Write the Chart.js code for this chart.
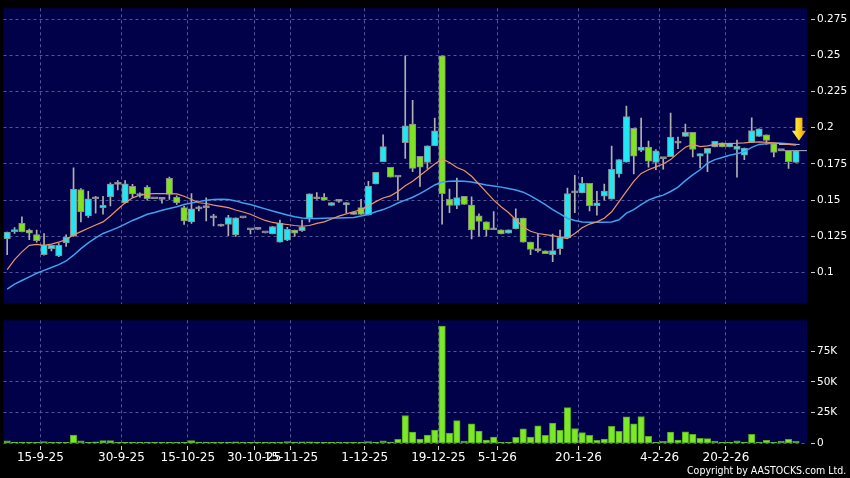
<!DOCTYPE html>
<html>
<head>
<meta charset="utf-8">
<script src="https://cdn.jsdelivr.net/npm/chart.js@4.4.1/dist/chart.umd.min.js"></script>
<style>
  html, body { margin: 0; padding: 0; background: #000; }
  #wrap { position: relative; width: 850px; height: 478px; overflow: hidden; background: #000; }
  #priceChart { position: absolute; left: 0; top: 0; }
  #volumeChart { position: absolute; left: 0; top: 312px; }
  .copyright { position: absolute; left: 687px; top: 464px; color: #fff; font: 11px "DejaVu Sans", sans-serif; white-space: nowrap; transform: scaleX(0.86); transform-origin: 0 0; }
</style>
</head>
<body>
<div id="wrap">
  <canvas id="priceChart" width="850" height="312"></canvas>
  <canvas id="volumeChart" width="850" height="166"></canvas>
  <div class="copyright">Copyright by AASTOCKS.com Ltd.</div>
</div>
<script>
// daily candles, oldest first (index 0 = first bar on the left)
const openPrices = [
  0.1233, 0.1283, 0.134, 0.1294, 0.1262, 0.1124, 0.1165, 0.1115, 0.1204, 0.1251,
  0.1573, 0.1391, 0.151, 0.1448, 0.1523, 0.1609, 0.1482, 0.1595, 0.1532, 0.159,
  0.151, 0.1505, 0.165, 0.152, 0.1448, 0.135, 0.144, 0.1448, 0.1378, 0.132,
  0.1333, 0.126, 0.1378, 0.1296, 0.1298, 0.1274, 0.1267, 0.121, 0.1224, 0.1294,
  0.129, 0.1376, 0.151, 0.152, 0.1464, 0.1492, 0.1468, 0.1418, 0.1449, 0.1398,
  0.1612, 0.1766, 0.1727, 0.1659, 0.1897, 0.2026, 0.1802, 0.1761, 0.1876, 0.2496,
  0.1505, 0.1464, 0.1527, 0.1466, 0.1391, 0.135, 0.1296, 0.1296, 0.1272, 0.1301,
  0.1376, 0.121, 0.1165, 0.115, 0.1124, 0.1165, 0.1241, 0.155, 0.155, 0.1617,
  0.1462, 0.1527, 0.1507, 0.1681, 0.1763, 0.1996, 0.1844, 0.1867, 0.1761, 0.1787,
  0.18, 0.1894, 0.194, 0.1969, 0.1804, 0.1822, 0.1867, 0.1896, 0.1867, 0.1851,
  0.181, 0.1898, 0.194, 0.1951, 0.189, 0.1842, 0.1844, 0.1761
];
const highPrices = [
  0.128, 0.131, 0.1385, 0.130, 0.1294, 0.127, 0.119, 0.120, 0.126, 0.1724,
  0.158, 0.1561, 0.1527, 0.1527, 0.162, 0.1635, 0.1636, 0.161, 0.155, 0.160,
  0.151, 0.151, 0.166, 0.153, 0.146, 0.1545, 0.146, 0.1516, 0.1403, 0.1335,
  0.1396, 0.1378, 0.1378, 0.1296, 0.1298, 0.1274, 0.132, 0.1362, 0.1312, 0.1294,
  0.1363, 0.1544, 0.1552, 0.1545, 0.1484, 0.1497, 0.1484, 0.1418, 0.1505, 0.163,
  0.1693, 0.1952, 0.1727, 0.1663, 0.2497, 0.219, 0.1802, 0.1875, 0.2067, 0.2496,
  0.1577, 0.1652, 0.1527, 0.1523, 0.1405, 0.135, 0.1421, 0.1296, 0.1296, 0.1441,
  0.1376, 0.121, 0.1266, 0.115, 0.1265, 0.1294, 0.1584, 0.1672, 0.1657, 0.1617,
  0.1561, 0.1611, 0.1873, 0.1781, 0.215, 0.1996, 0.2067, 0.1908, 0.185, 0.1787,
  0.2102, 0.1935, 0.2026, 0.1969, 0.1822, 0.1858, 0.1907, 0.1896, 0.1895, 0.1915,
  0.186, 0.2069, 0.1993, 0.1951, 0.189, 0.1842, 0.1844, 0.1842
];
const lowPrices = [
  0.1124, 0.127, 0.128, 0.1228, 0.121, 0.112, 0.115, 0.111, 0.118, 0.125,
  0.135, 0.138, 0.141, 0.1403, 0.146, 0.157, 0.148, 0.152, 0.152, 0.150,
  0.151, 0.148, 0.1505, 0.147, 0.1333, 0.134, 0.1425, 0.1357, 0.1323, 0.132,
  0.1255, 0.125, 0.1378, 0.1267, 0.1298, 0.1274, 0.1267, 0.121, 0.1221, 0.1249,
  0.1285, 0.135, 0.1505, 0.150, 0.1464, 0.1485, 0.1414, 0.1402, 0.1401, 0.1398,
  0.1612, 0.1766, 0.1659, 0.150, 0.1788, 0.1697, 0.1595, 0.172, 0.1876, 0.1335,
  0.1414, 0.1441, 0.147, 0.1233, 0.1251, 0.1251, 0.1296, 0.1267, 0.1272, 0.1301,
  0.121, 0.1124, 0.114, 0.1131, 0.1075, 0.1126, 0.1241, 0.1414, 0.155, 0.1426,
  0.1396, 0.150, 0.1507, 0.1659, 0.1763, 0.1681, 0.1835, 0.1727, 0.171, 0.1714,
  0.18, 0.1856, 0.194, 0.1799, 0.1722, 0.1697, 0.1867, 0.1867, 0.1867, 0.1659,
  0.178, 0.1898, 0.194, 0.1885, 0.1799, 0.1842, 0.172, 0.1761
];
const closePrices = [
  0.1279, 0.1294, 0.1283, 0.1272, 0.1221, 0.1188, 0.1188, 0.1188, 0.1245, 0.1577,
  0.1418, 0.151, 0.151, 0.1464, 0.1611, 0.1618, 0.1613, 0.1543, 0.1543, 0.151,
  0.151, 0.1505, 0.1539, 0.1482, 0.1357, 0.1441, 0.144, 0.1448, 0.1378, 0.1333,
  0.138, 0.1378, 0.1378, 0.1296, 0.1298, 0.1274, 0.1318, 0.134, 0.1298, 0.1272,
  0.1315, 0.1544, 0.1519, 0.150, 0.1484, 0.1492, 0.1484, 0.1402, 0.1401, 0.1597,
  0.1693, 0.187, 0.1659, 0.1659, 0.2013, 0.172, 0.1727, 0.1875, 0.1978, 0.1544,
  0.1464, 0.1518, 0.147, 0.1294, 0.1353, 0.1296, 0.1296, 0.1267, 0.1296, 0.1376,
  0.121, 0.116, 0.115, 0.1131, 0.1151, 0.1241, 0.1545, 0.155, 0.1617, 0.1462,
  0.1482, 0.1563, 0.1713, 0.1781, 0.2078, 0.1804, 0.1867, 0.177, 0.184, 0.1787,
  0.1935, 0.1894, 0.1969, 0.1851, 0.1822, 0.1858, 0.1907, 0.1867, 0.1895, 0.1874,
  0.186, 0.198, 0.1993, 0.1912, 0.1829, 0.1842, 0.1765, 0.1842
];
// daily turnover volume, thousands of shares
const volumesK = [
  2.1, 0.5, 1, 0.3, 0.5, 1.3, 0.2, 0.5, 0.2, 6.7,
  2, 0.6, 1.2, 2.2, 2.2, 0.2, 0.3, 0.6, 0.2, 0.3,
  0.2, 0.3, 0.5, 0.3, 0.2, 2.2, 1, 1, 0.6, 0.2,
  1, 1.2, 0.1, 0.2, 0.1, 0.2, 0.1, 0.2, 1.3, 1,
  1.2, 1.2, 1, 0.2, 0.1, 0.1, 0.2, 0.1, 0.2, 1.5,
  0.8, 2, 1, 3.3, 22.6, 9.1, 3.5, 6.6, 10.7, 95.4,
  8.3, 18.5, 1.9, 15.8, 9.9, 2.7, 5.1, 0.8, 0.8, 4.8,
  11.8, 5.1, 14.2, 6.4, 16.4, 10.5, 29, 12, 8.8, 6.4,
  2.4, 3.5, 13.7, 9.7, 21.5, 15.8, 21.8, 5.6, 0.8, 1.6,
  9.1, 2.7, 9.4, 7.2, 4, 3.8, 1.9, 0.8, 0.5, 2.1,
  1, 7.2, 0.8, 2.4, 0.8, 1.9, 3.2, 1.6
];
// moving averages as drawn on the chart
const ma10 = [
  0.102, 0.109, 0.1143, 0.1188, 0.1195, 0.1188, 0.1197, 0.121, 0.1228, 0.126,
  0.1283, 0.1306, 0.1328, 0.135, 0.1391, 0.1437, 0.1482, 0.1516, 0.1534, 0.1543,
  0.1545, 0.1545, 0.1545, 0.1543, 0.1527, 0.1505, 0.1482, 0.1477, 0.1466, 0.1457,
  0.1448, 0.1432, 0.1418, 0.1403, 0.138, 0.136, 0.1346, 0.1338, 0.1332, 0.1325,
  0.132, 0.1325, 0.134, 0.135, 0.137, 0.139, 0.1405, 0.142, 0.1435, 0.146,
  0.149, 0.1515, 0.153, 0.156, 0.160, 0.163, 0.167, 0.171, 0.175, 0.1785,
  0.176, 0.1725, 0.1705, 0.1665, 0.161, 0.1555, 0.150, 0.1455, 0.1415, 0.1365,
  0.1315, 0.1285, 0.127, 0.1262, 0.1255, 0.1245, 0.1235, 0.127, 0.131, 0.1335,
  0.135, 0.1375, 0.142, 0.149, 0.156, 0.163, 0.1685, 0.171, 0.173, 0.175,
  0.178, 0.1825, 0.1865, 0.1885, 0.187, 0.1875, 0.1885, 0.189, 0.189, 0.1893,
  0.1895, 0.190, 0.1903, 0.190, 0.1895, 0.189, 0.1885, 0.188
];
const ma20 = [
  0.0885, 0.092, 0.0945, 0.097, 0.0995, 0.1015, 0.1035, 0.1055, 0.108, 0.112,
  0.1165, 0.1205, 0.124, 0.127, 0.129, 0.131, 0.1335, 0.136, 0.138, 0.1403,
  0.1415, 0.143, 0.1443, 0.1455, 0.147, 0.148, 0.149, 0.150, 0.1505, 0.1507,
  0.1505, 0.1495, 0.148, 0.147, 0.1455, 0.144, 0.1425, 0.1412, 0.1398, 0.1385,
  0.1377, 0.1374, 0.1374, 0.1375, 0.1376, 0.1377, 0.1378, 0.138, 0.139, 0.140,
  0.142, 0.1435, 0.1455, 0.148, 0.150, 0.152, 0.1545, 0.1575, 0.1605, 0.1625,
  0.163, 0.1633, 0.163, 0.1625, 0.1615, 0.1605, 0.1598, 0.159, 0.158, 0.157,
  0.1555, 0.153, 0.150, 0.147, 0.1435, 0.1405, 0.1375, 0.136, 0.135, 0.1347,
  0.1347, 0.1347, 0.135, 0.1365, 0.141, 0.1435, 0.147, 0.150, 0.152, 0.1535,
  0.156, 0.159, 0.1635, 0.1675, 0.171, 0.1755, 0.178, 0.1795, 0.181, 0.182,
  0.1835, 0.1865, 0.1885, 0.189, 0.1893, 0.1893, 0.189, 0.1885
];
const dateTickIndex = [5, 16, 25, 34, 39, 49, 59, 67, 78, 89, 98];
const dateTickLabels = ['15-9-25', '30-9-25', '15-10-25', '30-10-25', '15-11-25', '1-12-25',
  '19-12-25', '5-1-26', '20-1-26', '4-2-26', '20-2-26'];
const priceTicks = [0.1, 0.125, 0.15, 0.175, 0.2, 0.225, 0.25, 0.275];
const volumeTicks = [0, 25000, 50000, 75000];

const UP = '#22e6f4';
const DOWN = '#7fe41f';
const FLAT = '#a8a8a8';
const NAVY = '#01014a';
const GRID = '#54549a';
const LAST = closePrices.length - 1;

Chart.defaults.font.family = 'DejaVu Sans';

const candleColor = closePrices.map((c, i) => c > openPrices[i] ? UP : (c < openPrices[i] ? DOWN : FLAT));

const plotBackground = {
    id: 'plotBackground',
    beforeDraw(chart) {
        const { ctx, chartArea: a } = chart;
        ctx.save();
        ctx.fillStyle = NAVY;
        ctx.fillRect(a.left, a.top, a.right - a.left, a.bottom - a.top);
        ctx.restore();
    }
};

// little yellow arrow above the latest bar
const arrowMarker = {
    id: 'arrowMarker',
    afterDatasetsDraw(chart) {
        const { ctx, scales } = chart;
        const cx = scales.x.getPixelForValue(LAST) + 3;
        const tip = scales.y.getPixelForValue(highPrices[LAST]) - 10;
        const g = ctx.createLinearGradient(cx - 7, 0, cx + 7, 0);
        g.addColorStop(0, '#fff27a');
        g.addColorStop(0.5, '#ffd21a');
        g.addColorStop(1, '#e89a00');
        ctx.save();
        ctx.fillStyle = g;
        ctx.beginPath();
        ctx.moveTo(cx - 3.5, tip - 23);
        ctx.lineTo(cx + 3.5, tip - 23);
        ctx.lineTo(cx + 3.5, tip - 10);
        ctx.lineTo(cx + 7, tip - 10);
        ctx.lineTo(cx, tip);
        ctx.lineTo(cx - 7, tip - 10);
        ctx.lineTo(cx - 3.5, tip - 10);
        ctx.closePath();
        ctx.fill();
        ctx.restore();
    }
};

function dateAxis(showLabels) {
    return {
        type: 'linear',
        min: -0.5,
        max: 108.5,
        offset: false,
        afterBuildTicks: axis => { axis.ticks = dateTickIndex.map(i => ({ value: i - 0.5 })); },
        grid: {
            offset: false,
            color: GRID,
            drawTicks: showLabels,
            tickLength: 7,
            tickColor: '#d0d0d0',
            tickBorderDash: [0, 3, 4, 0]
        },
        border: { display: false, dash: [3, 3] },
        ticks: {
            display: showLabels,
            color: '#fff',
            font: { size: 12 },
            padding: 0,
            maxRotation: 0,
            autoSkip: false,
            callback: v => {
                const k = dateTickIndex.indexOf(Math.round(v + 0.5));
                return k >= 0 ? dateTickLabels[k] : '';
            }
        },
        afterFit: axis => { axis.height = showLabels ? 34.7 : 0; }
    };
}

function valueAxis(min, max, tickValues, format) {
    return {
        position: 'right',
        min: min,
        max: max,
        afterBuildTicks: axis => { axis.ticks = tickValues.map(v => ({ value: v })); },
        grid: {
            color: GRID,
            tickLength: 8,
            tickColor: '#d0d0d0',
            tickBorderDash: [0, 4, 4, 0]
        },
        border: { display: false, dash: [3, 3] },
        ticks: { color: '#fff', font: { size: 10.5 }, padding: 2, callback: format },
        afterFit: axis => { axis.width = 43; }
    };
}

const commonOptions = {
    responsive: false,
    animation: false,
    devicePixelRatio: 1,
    plugins: { legend: { display: false }, tooltip: { enabled: false } }
};

new Chart(document.getElementById('priceChart'), {
    type: 'bar',
    data: {
        datasets: [
            {
                type: 'line',
                label: 'MA10',
                data: ma10.map((v, i) => ({ x: i, y: v })),
                borderColor: '#ec9468',
                borderWidth: 1.2,
                pointRadius: 0,
                order: 0
            },
            {
                type: 'line',
                label: 'MA20',
                data: ma20.map((v, i) => ({ x: i, y: v })),
                borderColor: '#3ea2ec',
                borderWidth: 1.5,
                pointRadius: 0,
                order: 0
            },
            // short grey markers at the latest MA20 and close values
            {
                type: 'line',
                label: 'MA20 now',
                data: [{ x: LAST - 2.3, y: ma20[LAST] }, { x: LAST + 0.5, y: ma20[LAST] }],
                borderColor: '#c4c4cc',
                borderWidth: 1,
                pointRadius: 0,
                order: 0
            },
            {
                type: 'line',
                label: 'Close now',
                data: [{ x: LAST - 2.4, y: closePrices[LAST] }, { x: LAST + 1.5, y: closePrices[LAST] }],
                borderColor: '#b4b4bc',
                borderWidth: 1,
                pointRadius: 0,
                order: 3
            },
            {
                label: 'Body',
                data: openPrices.map((o, i) => ({ x: i, y: [o, closePrices[i]] })),
                backgroundColor: candleColor,
                borderColor: '#8c8c8c',
                borderWidth: 1,
                borderSkipped: false,
                barThickness: 6.5,
                minBarLength: 2,
                grouped: false,
                order: 1
            },
            {
                label: 'Wick',
                data: lowPrices.map((l, i) => ({ x: i, y: [l, highPrices[i]] })),
                backgroundColor: '#b0b0b0',
                barThickness: 1,
                grouped: false,
                order: 2
            }
        ]
    },
    options: {
        ...commonOptions,
        layout: { padding: { left: 3.5, top: 5.7, right: 0, bottom: 6 } },
        scales: {
            x: dateAxis(false),
            y: valueAxis(0.0785, 0.2825, priceTicks, v => String(+v.toFixed(3)))
        }
    },
    plugins: [plotBackground, arrowMarker]
});

new Chart(document.getElementById('volumeChart'), {
    type: 'bar',
    data: {
        datasets: [{
            label: 'Volume',
            data: volumesK.map((v, i) => ({ x: i, y: v * 1000 })),
            backgroundColor: '#7de82a',
            borderColor: '#55a61a',
            borderWidth: 1,
            borderSkipped: false,
            barThickness: 6.5,
            minBarLength: 1
        }]
    },
    options: {
        ...commonOptions,
        layout: { padding: { left: 3.5, top: 7, right: 0, bottom: 0 } },
        scales: {
            x: dateAxis(true),
            y: valueAxis(0, 100000, volumeTicks, v => v === 0 ? '0' : (v / 1000) + 'K')
        }
    },
    plugins: [plotBackground]
});
</script>
</body>
</html>
